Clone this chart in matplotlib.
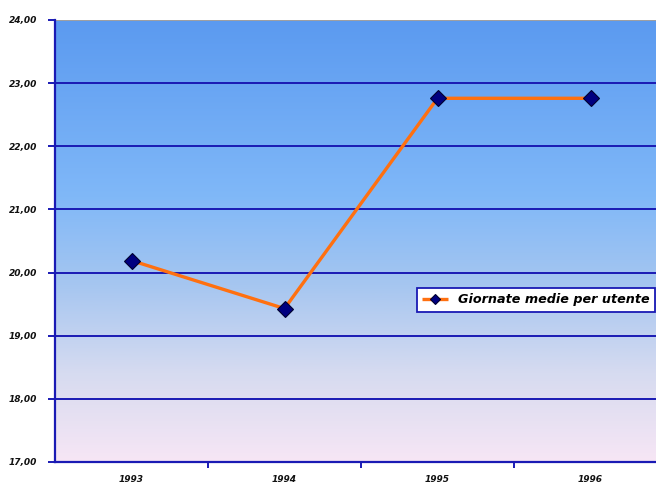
import numpy as np
import matplotlib
matplotlib.use("Agg")
import matplotlib.pyplot as plt
from matplotlib.colors import LinearSegmentedColormap

years = ["1993", "1994", "1995", "1996"]
values = [20.19, 19.43, 22.76, 22.76]
series_name = "Giornate medie per utente"
yticks = [17, 18, 19, 20, 21, 22, 23, 24]
ytick_labels = ["17,00", "18,00", "19,00", "20,00", "21,00", "22,00", "23,00", "24,00"]

fig = plt.figure(figsize=(6.56, 4.83), dpi=100)
fig.patch.set_facecolor("white")
ax = fig.add_axes([55/656, 21/483, 612/656, 442/483])

cmap = LinearSegmentedColormap.from_list(
    "bg", [(0.0, "#5b9af0"), (0.4, "#80b8f8"), (0.6, "#a6c6f0"), (0.8, "#d6dbf0"), (1.0, "#f7e6f5")])
grad = np.linspace(0, 1, 256).reshape(-1, 1)
ax.imshow(grad, aspect="auto", cmap=cmap, extent=[-0.5, 3.5, 17, 24],
          origin="upper", zorder=0)

for y in yticks[1:-1]:
    ax.axhline(y, color="#1a1ab4", lw=1.4, zorder=1)
ax.axhline(24, color="#a0a0a0", lw=1.4, zorder=1)

x = np.arange(len(years))
ax.plot(x, values, color="#ff7010", lw=2.4, zorder=3, solid_capstyle="butt",
        marker="D", ms=8.5, mfc="#000080", mec="#000030", mew=0.8, label=series_name)

ax.set_xlim(-0.5, 3.5)
ax.set_ylim(17, 24)
ax.set_yticks(yticks)
ax.set_yticklabels(ytick_labels)
ax.set_xticks(x)
ax.set_xticklabels(years)
ax.set_xticks([0.5, 1.5, 2.5], minor=True)
ax.tick_params(axis="x", which="major", length=0, pad=9)
ax.tick_params(axis="x", which="minor", length=4, color="#1a1ab4", width=1.4, direction="out")
ax.tick_params(axis="y", length=5, color="#1a1ab4", width=1.4, pad=8)
for lab in ax.get_xticklabels() + ax.get_yticklabels():
    lab.set_fontsize(6.5)
    lab.set_fontweight("bold")
    lab.set_fontstyle("italic")
    lab.set_color("#111111")

for s in ["top", "right"]:
    ax.spines[s].set_visible(False)
ax.spines["left"].set_color("#1a1ab4")
ax.spines["left"].set_linewidth(1.6)
ax.spines["bottom"].set_color("#1a1ab4")
ax.spines["bottom"].set_linewidth(1.6)

leg = ax.legend(loc="center left", bbox_to_anchor=(417/656, 1 - 300/483),
                bbox_transform=fig.transFigure, frameon=True, fancybox=False,
                prop={"size": 9.2, "weight": "bold", "style": "italic"},
                markerscale=0.6,
                handlelength=2.0, borderpad=0.4, handletextpad=0.8, borderaxespad=0)
leg.get_frame().set_edgecolor("#1a1ab4")
leg.get_frame().set_linewidth(1.3)
leg.get_frame().set_facecolor("white")
leg.get_frame().set_alpha(1)

fig.savefig("out.png", dpi=100)
